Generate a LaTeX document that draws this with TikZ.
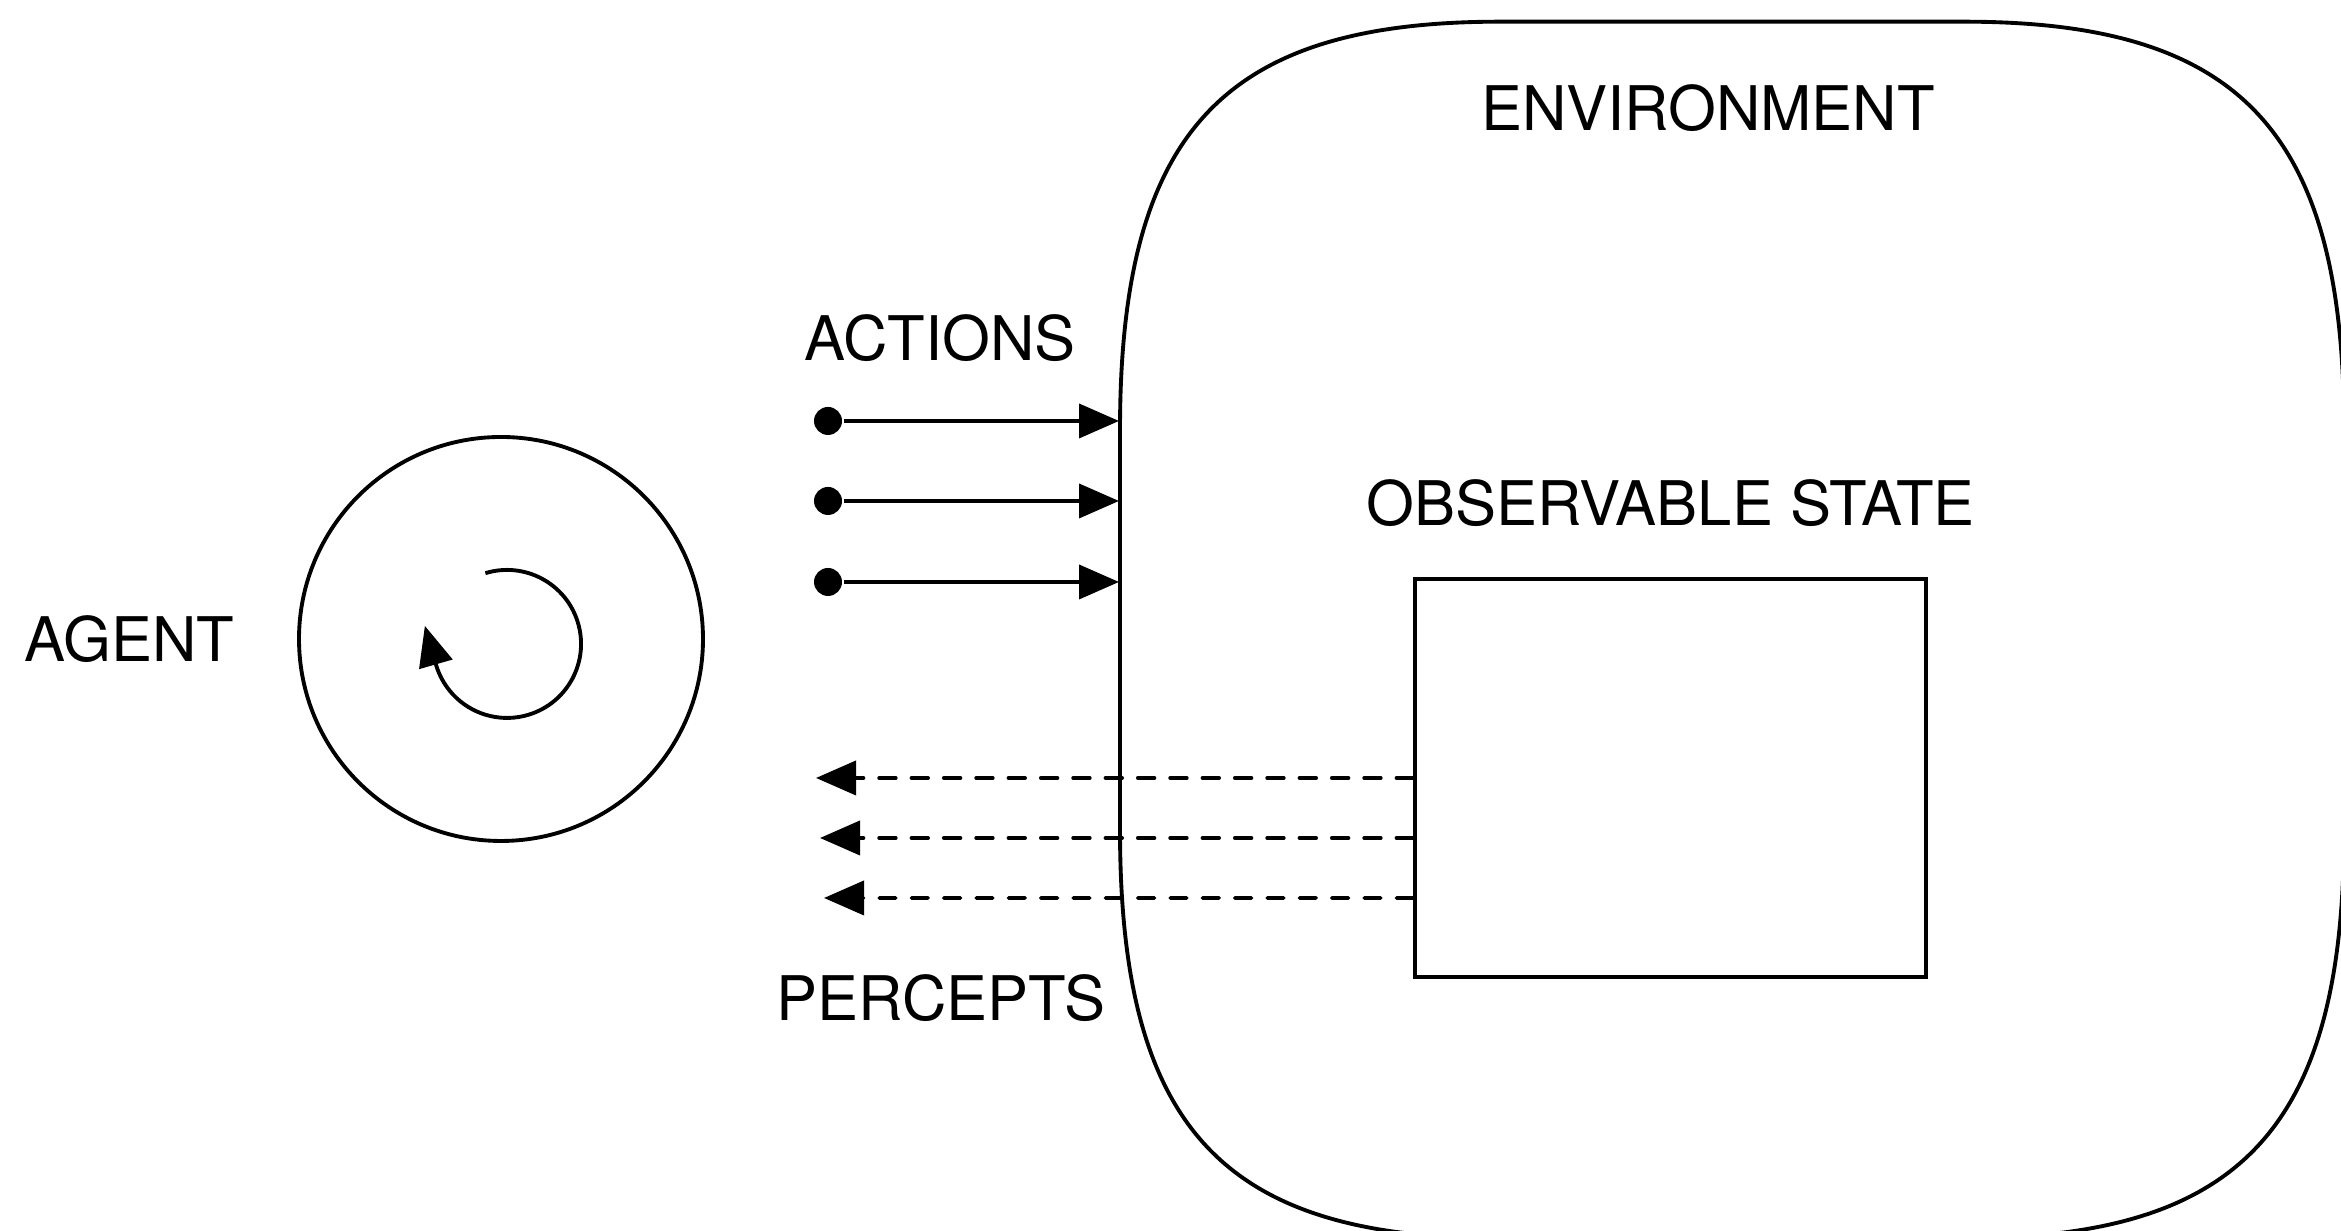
\documentclass[tikz,border=0pt]{standalone}
\usepackage{fontspec}
\setmainfont{TeX Gyre Heros}
\usetikzlibrary{arrows.meta,calc,positioning}

\begin{document}
\begin{tikzpicture}[->,>={Triangle[length=4mm,width=3.4mm]},line width=1.1pt,node distance=1cm]
\tikzstyle{labeltext}=[inner sep=0pt,font=\fontsize{17.5}{21}\selectfont]
\tikzstyle{actdot}=[circle,fill,inner sep=0pt,minimum size=2.8mm]
\tikzstyle{percept}=[dash pattern=on 4.7pt off 4.5pt,line cap=round]

\useasboundingbox (0,0) rectangle (23.41,12.31);

% agent with its loop
\node[circle,draw,minimum size=4.04cm] (agent) at (5.01,5.92) {};
\node[labeltext] (agentlabel) [left=0.61cm of agent] {AGENT};
\draw (4.854,6.578) arc[start angle=107,end angle=-164,radius=0.74] -- ++(-0.1102,0.3845);

% environment
\draw[-] (11.20,4.01) -- (11.20,8.01) .. controls (11.20,11.013) and (12.25,12.093) .. (15.00,12.093)
  -- (19.64,12.093) .. controls (22.39,12.093) and (23.44,11.013) .. (23.44,8.01)
  -- (23.44,4.01) .. controls (23.44,1.007) and (22.39,-0.073) .. (19.64,-0.073)
  -- (15.00,-0.073) .. controls (12.25,-0.073) and (11.20,1.007) .. cycle;
\node[labeltext] (envlabel) at (17.08,11.23) {ENVIRONMENT};

\node[draw,rectangle,minimum width=5.11cm,minimum height=3.98cm] (obs) at (16.705,4.53) {};
\node[labeltext] (obslabel) [above=0.49cm of obs] {OBSERVABLE STATE};

% actions
\node[actdot] (act1) at (8.28,8.10) {};
\node[actdot] (act2) at (8.28,7.30) {};
\node[actdot] (act3) at (8.28,6.49) {};
\coordinate (in1) at (11.19,8.10);
\coordinate (in2) at (11.19,7.30);
\coordinate (in3) at (11.19,6.49);
\node[labeltext] (actlabel) at (9.40,8.93) {ACTIONS};

\draw (act1) -- (in1);
\draw (act2) -- (in2);
\draw (act3) -- (in3);

% percepts
\coordinate (out1) at (8.16,4.53);
\coordinate (out2) at (8.20,3.93);
\coordinate (out3) at (8.24,3.33);
\node[labeltext] (perclabel) at (9.41,2.33) {PERCEPTS};

\draw[percept] (obs.west) -- (out1);
\draw[percept] ([yshift=-0.6cm]obs.west) -- (out2);
\draw[percept] ([yshift=-1.2cm]obs.west) -- (out3);
\end{tikzpicture}
\end{document}
